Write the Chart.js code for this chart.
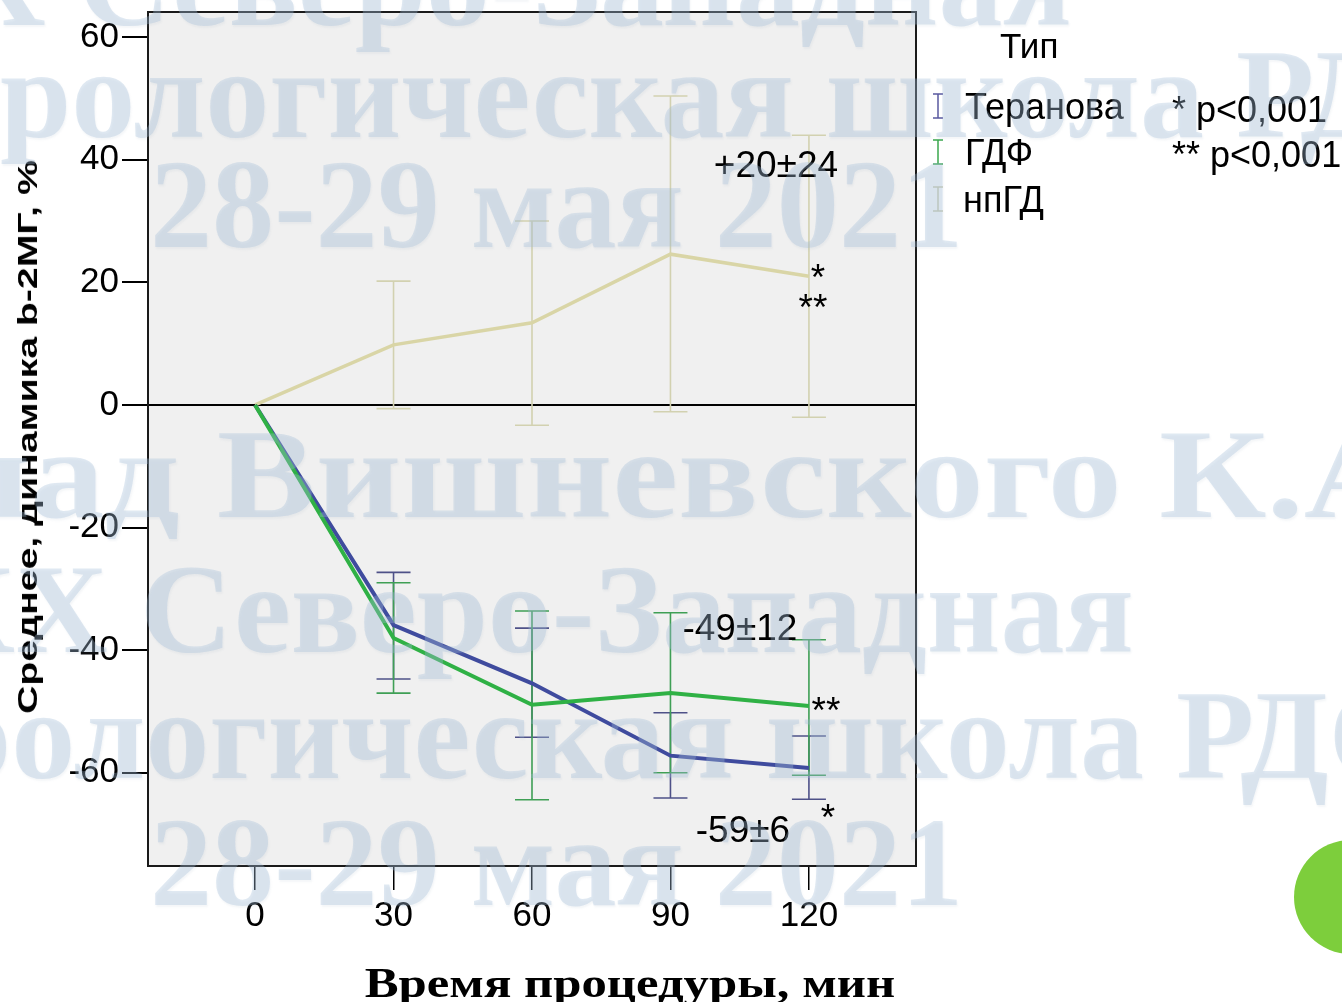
<!DOCTYPE html>
<html>
<head>
<meta charset="utf-8">
<script src="https://cdn.jsdelivr.net/npm/chart.js@4.4.1/dist/chart.umd.min.js"></script>
<style>
body{margin:0;background:#fff;}
#wrap{position:relative;width:1342px;height:1002px;overflow:hidden;font-family:"Liberation Sans",Arial,sans-serif;}
#chart{position:absolute;left:0;top:0;}
.t{position:absolute;white-space:nowrap;color:#000;font-size:36px;line-height:1;}
.sym{position:absolute;}
#xtitle{position:absolute;left:630px;top:982px;transform:translate(-50%,-50%) scale(1.18,1);font-family:"Liberation Serif","Times New Roman",serif;font-weight:bold;font-size:43px;white-space:nowrap;}
#ytitle{position:absolute;left:28px;top:437px;transform:translate(-50%,-50%) rotate(-90deg) scale(1.4,1);font-weight:bold;font-size:28px;white-space:nowrap;}
#dot{position:absolute;left:1294px;top:840px;width:114px;height:114px;border-radius:50%;background:#7dce3c;}
#wm{position:absolute;left:0;top:0;width:1342px;height:1002px;pointer-events:none;}
#wm div{position:absolute;white-space:nowrap;font-family:"Liberation Serif",serif;font-weight:bold;font-size:128px;line-height:1;color:rgba(160,188,215,0.32);text-shadow:1px 2px 2px rgba(150,170,190,0.10);transform-origin:0 0;}
</style>
</head>
<body>
<div id="wrap">
  <canvas id="chart" width="1342" height="1002"></canvas>

  <div class="t" style="left:1000px;top:28px;font-size:35px;">Тип</div>
  <svg class="sym" style="left:930px;top:92px" width="16" height="28"><path d="M3 2H13M8 2V26M3 26H13" stroke="#5a5aa0" stroke-width="1.5" fill="none"/></svg>
  <div class="t" style="left:965px;top:89px;">Теранова</div>
  <svg class="sym" style="left:930px;top:138px" width="16" height="28"><path d="M3 2H13M8 2V26M3 26H13" stroke="#3ba84e" stroke-width="1.5" fill="none"/></svg>
  <div class="t" style="left:965px;top:135px;">ГДФ</div>
  <svg class="sym" style="left:930px;top:185px" width="16" height="28"><path d="M3 2H13M8 2V26M3 26H13" stroke="#cfcfb4" stroke-width="1.5" fill="none"/></svg>
  <div class="t" style="left:963px;top:182px;">нпГД</div>
  <div class="t" style="left:1172px;top:92px;">* p&lt;0,001</div>
  <div class="t" style="left:1172px;top:137px;">** p&lt;0,001</div>

  <div id="ytitle">Среднее, динамика b-2МГ, %</div>
  <div id="xtitle">Время процедуры, мин</div>
  <div id="dot"></div>

  <div id="wm">
    <div style="left:-139px;top:-82px;">XX Северо-Западная</div>
    <div style="left:-64px;top:30px;">урологическая школа РДО</div>
    <div style="left:150px;top:140px;transform:scale(0.97,1);">28-29 мая 2021</div>
    <div style="left:-315px;top:410px;transform:scale(1.16,1);">Доклад Вишневского К.А.</div>
    <div style="left:-77px;top:545px;">XX Северо-Западная</div>
    <div style="left:-124px;top:671px;">урологическая школа РДО</div>
    <div style="left:150px;top:798px;transform:scale(0.97,1);">28-29 мая 2021</div>
  </div>
</div>

<script>
// values (mean and error bar ends, %)
const minutes = [0, 30, 60, 90, 120];
const xTicks = [0, 30, 60, 90, 120];
const yTicks = [-60, -40, -20, 0, 20, 40, 60];

const teranovaMean = [0, -35.9, -45.4, -57.2, -59.2];
const teranovaLow  = [0, -44.7, -54.2, -64.1, -64.3];
const teranovaHigh = [0, -27.3, -36.4, -50.2, -54.0];

const gdfMean = [0, -38.0, -48.9, -47.0, -49.1];
const gdfLow  = [0, -47.0, -64.4, -60.0, -60.4];
const gdfHigh = [0, -29.0, -33.6, -33.9, -38.3];

const npgdMean = [0, 9.8, 13.4, 24.6, 21.0];
const npgdLow  = [0, -0.6, -3.3, -1.1, -2.0];
const npgdHigh = [0, 20.2, 30.0, 50.4, 44.0];

const toPoints = arr => arr.map((v, i) => ({x: minutes[i], y: v}));

// text labels next to the last point of a series: [text, series index, dx, dy]
const notes = [
    ['+20±24', 2, -33, -109],
    ['*', 2, 9, 4],
    ['**', 2, 4, 34],
    ['-49±12', 1, -69, -76],
    ['**', 1, 17, 7],
    ['-59±6', 0, -66, 64],
    ['*', 0, 19, 52]
];

const errorBars = {
    id: 'errorBars',
    beforeDatasetsDraw(chart) {
        const {ctx, scales: {x, y}} = chart;
        ctx.save();
        chart.data.datasets.forEach(ds => {
            ctx.strokeStyle = ds.barColor;
            ctx.lineWidth = 1.6;
            ds.low.forEach((lo, i) => {
                const hi = ds.high[i];
                if (lo === hi) return;
                const px = x.getPixelForValue(minutes[i]);
                const y1 = y.getPixelForValue(lo);
                const y2 = y.getPixelForValue(hi);
                ctx.beginPath();
                ctx.moveTo(px, y1); ctx.lineTo(px, y2);
                ctx.moveTo(px - 17, y1); ctx.lineTo(px + 17, y1);
                ctx.moveTo(px - 17, y2); ctx.lineTo(px + 17, y2);
                ctx.stroke();
            });
        });
        ctx.restore();
    }
};

const extras = {
    id: 'extras',
    beforeDraw(chart) {
        const {ctx, chartArea: a} = chart;
        ctx.save();
        ctx.fillStyle = '#f0f0f0';
        ctx.fillRect(a.left, a.top, a.right - a.left, a.bottom - a.top);
        ctx.restore();
    },
    afterDraw(chart) {
        const {ctx, chartArea: a, scales: {x, y}} = chart;
        ctx.save();
        ctx.strokeStyle = '#1a1a1a';
        ctx.lineWidth = 2;
        ctx.strokeRect(a.left, a.top, a.right - a.left, a.bottom - a.top);

        ctx.fillStyle = '#000';
        ctx.font = '37px "Liberation Sans", Arial, sans-serif';
        ctx.textAlign = 'center';
        ctx.textBaseline = 'middle';
        notes.forEach(([text, s, dx, dy]) => {
            const ds = chart.data.datasets[s];
            const last = ds.data[ds.data.length - 1];
            ctx.fillText(text, x.getPixelForValue(last.x) + dx, y.getPixelForValue(last.y) + dy);
        });
        ctx.restore();
    }
};

const tickFont = {family: '"Liberation Sans", Arial, sans-serif', size: 35};

new Chart(document.getElementById('chart'), {
    type: 'line',
    data: {
        datasets: [
            {
                label: 'Теранова',
                data: toPoints(teranovaMean),
                low: teranovaLow, high: teranovaHigh,
                borderColor: '#3f4b9e', barColor: '#4e5188',
                borderWidth: 4, order: 2
            },
            {
                label: 'ГДФ',
                data: toPoints(gdfMean),
                low: gdfLow, high: gdfHigh,
                borderColor: '#2fb145', barColor: '#3f9f55',
                borderWidth: 4, order: 1
            },
            {
                label: 'нпГД',
                data: toPoints(npgdMean),
                low: npgdLow, high: npgdHigh,
                borderColor: '#d9d5a6', barColor: '#d2d1b0',
                borderWidth: 3.5, order: 3
            }
        ]
    },
    options: {
        responsive: false,
        animation: false,
        layout: {padding: {left: 0, right: 426, top: 12, bottom: 0}},
        elements: {point: {radius: 0}, line: {tension: 0}},
        plugins: {legend: {display: false}, tooltip: {enabled: false}},
        scales: {
            x: {
                type: 'linear',
                min: -23.2,
                max: 143.2,
                afterFit(axis) { axis.height = 136; axis.paddingLeft = 0; axis.paddingRight = 0; },
                afterBuildTicks(axis) { axis.ticks = xTicks.map(v => ({value: v})); },
                border: {display: false},
                grid: {drawOnChartArea: false, tickLength: 24, tickColor: '#000', lineWidth: 1.5},
                ticks: {color: '#000', font: tickFont, padding: 5, maxRotation: 0}
            },
            y: {
                type: 'linear',
                min: -75.2,
                max: 64.1,
                afterFit(axis) { axis.width = 148; axis.paddingTop = 0; axis.paddingBottom = 0; },
                afterBuildTicks(axis) { axis.ticks = yTicks.map(v => ({value: v})); },
                border: {display: false},
                grid: {
                    color: c => c.tick && c.tick.value === 0 ? '#000' : 'rgba(0,0,0,0)',
                    lineWidth: 2,
                    tickColor: '#000',
                    tickLength: 26
                },
                ticks: {color: '#000', font: tickFont, padding: 3}
            }
        }
    },
    plugins: [extras, errorBars]
});
</script>
</body>
</html>
